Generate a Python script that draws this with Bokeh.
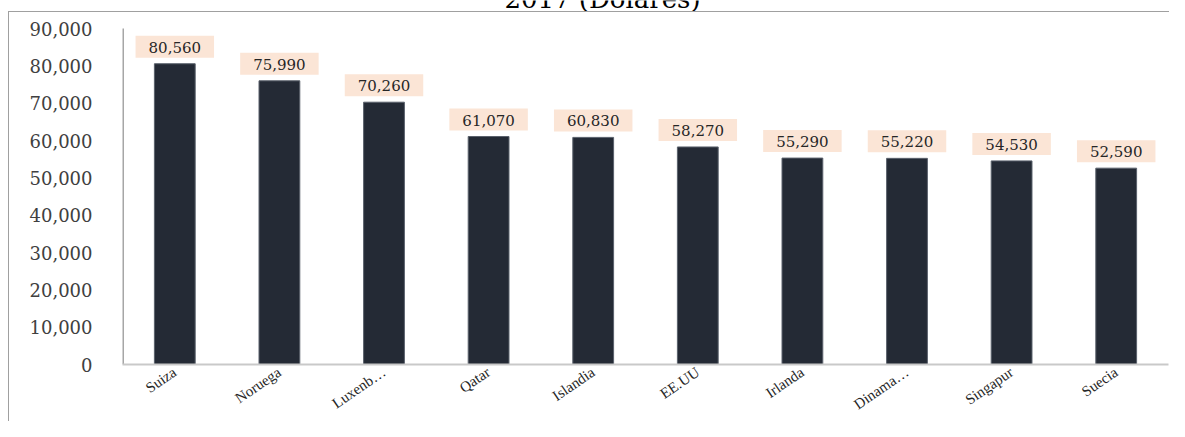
from bokeh.plotting import figure
from bokeh.models import (ColumnDataSource, FactorRange, Range1d, NumeralTickFormatter,
                          Label, FixedTicker, InlineStyleSheet)
from bokeh.core.properties import value
from bokeh.embed import file_html
from bokeh.resources import INLINE

# ---- data ----
countries = ["Suiza", "Noruega", "Luxenb…", "Qatar", "Islandia",
             "EE.UU", "Irlanda", "Dinama…", "Singapur", "Suecia"]
gdp_pc = [80560, 75990, 70260, 61070, 60830, 58270, 55290, 55220, 54530, 52590]
value_labels = [f"{v:,}" for v in gdp_pc]
y_ticks = [0, 10000, 20000, 30000, 40000, 50000, 60000, 70000, 80000, 90000]
title_text = "2017 (Dólares)"

# ---- layout constants ----
W, H = 1169, 421
BL, BR, BB = 122, 1, 57
AXIS_TOP_PX = 28            # where the plot area (value 90,000) starts, from canvas top
Y_MAX = 90000
frame_h = H - BB
plot_h = frame_h - AXIS_TOP_PX
per_px_y = Y_MAX / plot_h
Y_TOP = Y_MAX + AXIS_TOP_PX * per_px_y   # frame reaches the canvas top (title lives there)
per_px_x = len(countries) / (W - BL - BR)

src = ColumnDataSource(dict(country=countries, gdp=gdp_pc, label=value_labels))

p = figure(x_range=FactorRange(*countries), y_range=Range1d(0, Y_TOP),
           width=W, height=H, output_backend="svg", toolbar_location=None,
           min_border_left=BL, min_border_right=BR, min_border_top=0, min_border_bottom=BB)
p.outline_line_color = None
p.background_fill_color = "white"
p.border_fill_color = "white"
p.xgrid.grid_line_color = None
p.ygrid.grid_line_color = None

# outer chart-area border (top and left edges)
p.stylesheets = [InlineStyleSheet(css="""
:host { position: relative; }
:host::after { content: ""; position: absolute; left: 8px; top: 11px; right: 0; bottom: 0;
  border-top: 1px solid #a0a0a0; border-left: 1px solid #a0a0a0; pointer-events: none; }
""")]

# vertical axis line only over the plotted value span (0 .. 90,000)
p.segment(x0=[0], y0=[0], x1=[0], y1=[Y_MAX], line_color="#a6a6a6", line_width=3)

p.vbar(x="country", top="gdp", width=0.39, source=src,
       fill_color="#242a35", line_color="#5a616c", line_width=1)

p.text(x="country", y="gdp", text="label", source=src,
       text_font=value("DejaVu Serif"), text_font_size="15px", text_color="#262626",
       text_align="center", text_baseline="bottom", y_offset=-6,
       background_fill_color="#fbe5d6",
       padding=dict(left=13, right=13, top=6, bottom=5))

# y axis
p.yaxis.ticker = FixedTicker(ticks=y_ticks)
p.yaxis.formatter = NumeralTickFormatter(format="0,0")
p.yaxis.major_tick_line_color = None
p.yaxis.minor_tick_line_color = None
p.yaxis.axis_line_color = None
p.yaxis.major_label_text_font = "DejaVu Serif"
p.yaxis.major_label_text_font_size = "18px"
p.yaxis.major_label_text_color = "#404040"
p.yaxis.major_label_standoff = 24

# x axis
p.xaxis.major_tick_line_color = None
p.xaxis.minor_tick_line_color = None
p.xaxis.axis_line_color = "#c9c9c9"
p.xaxis.axis_line_width = 2
p.xaxis.major_label_orientation = 0.6
p.xaxis.major_label_text_font = "Liberation Serif"
p.xaxis.major_label_text_font_size = "15px"
p.xaxis.major_label_text_color = "#262626"
p.xaxis.major_label_standoff = 0

# title: only its lower part shows at the top edge, as in the reference
p.add_layout(Label(x=(602 - BL) * per_px_x, y=Y_TOP + 2 * per_px_y, text=title_text,
                   text_font="DejaVu Serif", text_font_size="26px", text_color="#000000",
                   text_align="center", text_baseline="alphabetic"))

open("out.html", "w").write(file_html(p, INLINE))
